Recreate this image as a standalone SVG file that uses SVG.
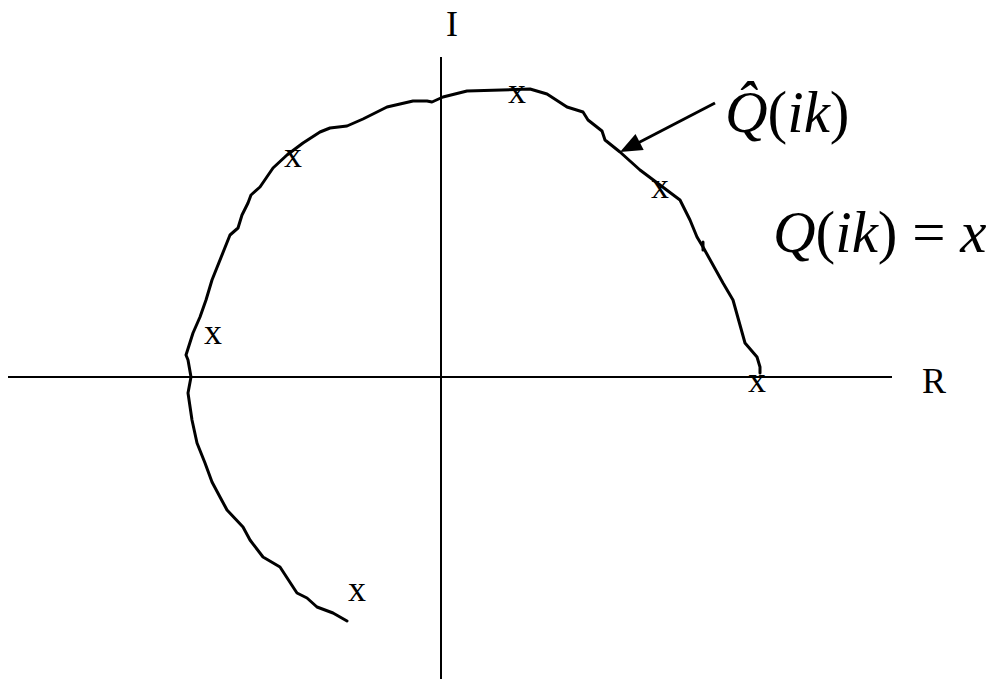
<svg xmlns="http://www.w3.org/2000/svg" width="1000" height="679" viewBox="0 0 1000 679">
<style>
.axis{stroke:#000;stroke-width:2;fill:none}
.curve{stroke:#000;stroke-width:3;fill:none;stroke-linejoin:round;stroke-linecap:round}
.lbl{font-family:"Liberation Serif","DejaVu Serif",serif;font-size:36px;fill:#000}
.mk{font-family:"Liberation Serif","DejaVu Serif",serif;font-size:36px;fill:#000;text-anchor:middle}
.math{font-family:"Liberation Serif","DejaVu Serif",serif;font-size:59px;fill:#000}
.it{font-family:"Liberation Serif","DejaVu Serif",serif;font-style:italic}
</style>
<rect width="1000" height="679" fill="#fff"/>
<g id="axes">
<line class="axis" x1="8" y1="377" x2="892" y2="377"/>
<line class="axis" x1="441" y1="57" x2="441" y2="679"/>
<text class="lbl" x="452" y="36" text-anchor="middle">I</text>
<text class="lbl" x="922" y="393">R</text>
</g>
<g id="curve">
<path class="curve" d="M347,621 L333,613 L317,607 L307,598 L297,593 L295,590 L280,567 L263,557 L250,540 L243,527 L227,510 L220,497 L212,482 L205,463 L197,443 L192,420 L188,393 L191,377 L188,360 L186,355 L193,333 L200,317 L206,300 L212,280 L230,235 L238,228 L242,215 L248,203 L251,195 L260,187 L273,168 L287,155 L303,143 L320,132 L330,128 L347,126 L363,119 L387,107 L413,101 L427,101 L432,102 L443,97 L467,91 L530,89 L547,94 L567,107 L583,112 L588,120 L602,131 L605,140 L620,152 L640,170 L680,200 L690,220 L697,237 L703,247 L723,283 L733,300 L745,343 L757,357 L760,367 L760,373"/>
<path class="curve" d="M703,242 L703,250"/>
</g>
<g id="markers">
<text class="mk" x="517" y="103">x</text>
<text class="mk" x="293" y="167">x</text>
<text class="mk" x="660" y="198">x</text>
<text class="mk" x="213" y="344">x</text>
<text class="mk" x="757" y="392">x</text>
<text class="mk" x="357" y="601">x</text>
</g>
<g id="connectors">
<line x1="715" y1="103" x2="636" y2="144" stroke="#000" stroke-width="3"/>
<polygon points="620,152 635.5,133.9 643.7,149.9" fill="#000"/>
</g>
<g id="label-qhat">
<text class="math" x="725" y="132"><tspan class="it">Q̂</tspan>(<tspan class="it">ik</tspan>)</text>
</g>
<g id="label-q">
<text class="math" x="773" y="252"><tspan class="it">Q</tspan>(<tspan class="it">ik</tspan>) = <tspan class="it">x</tspan></text>
</g>
</svg>
